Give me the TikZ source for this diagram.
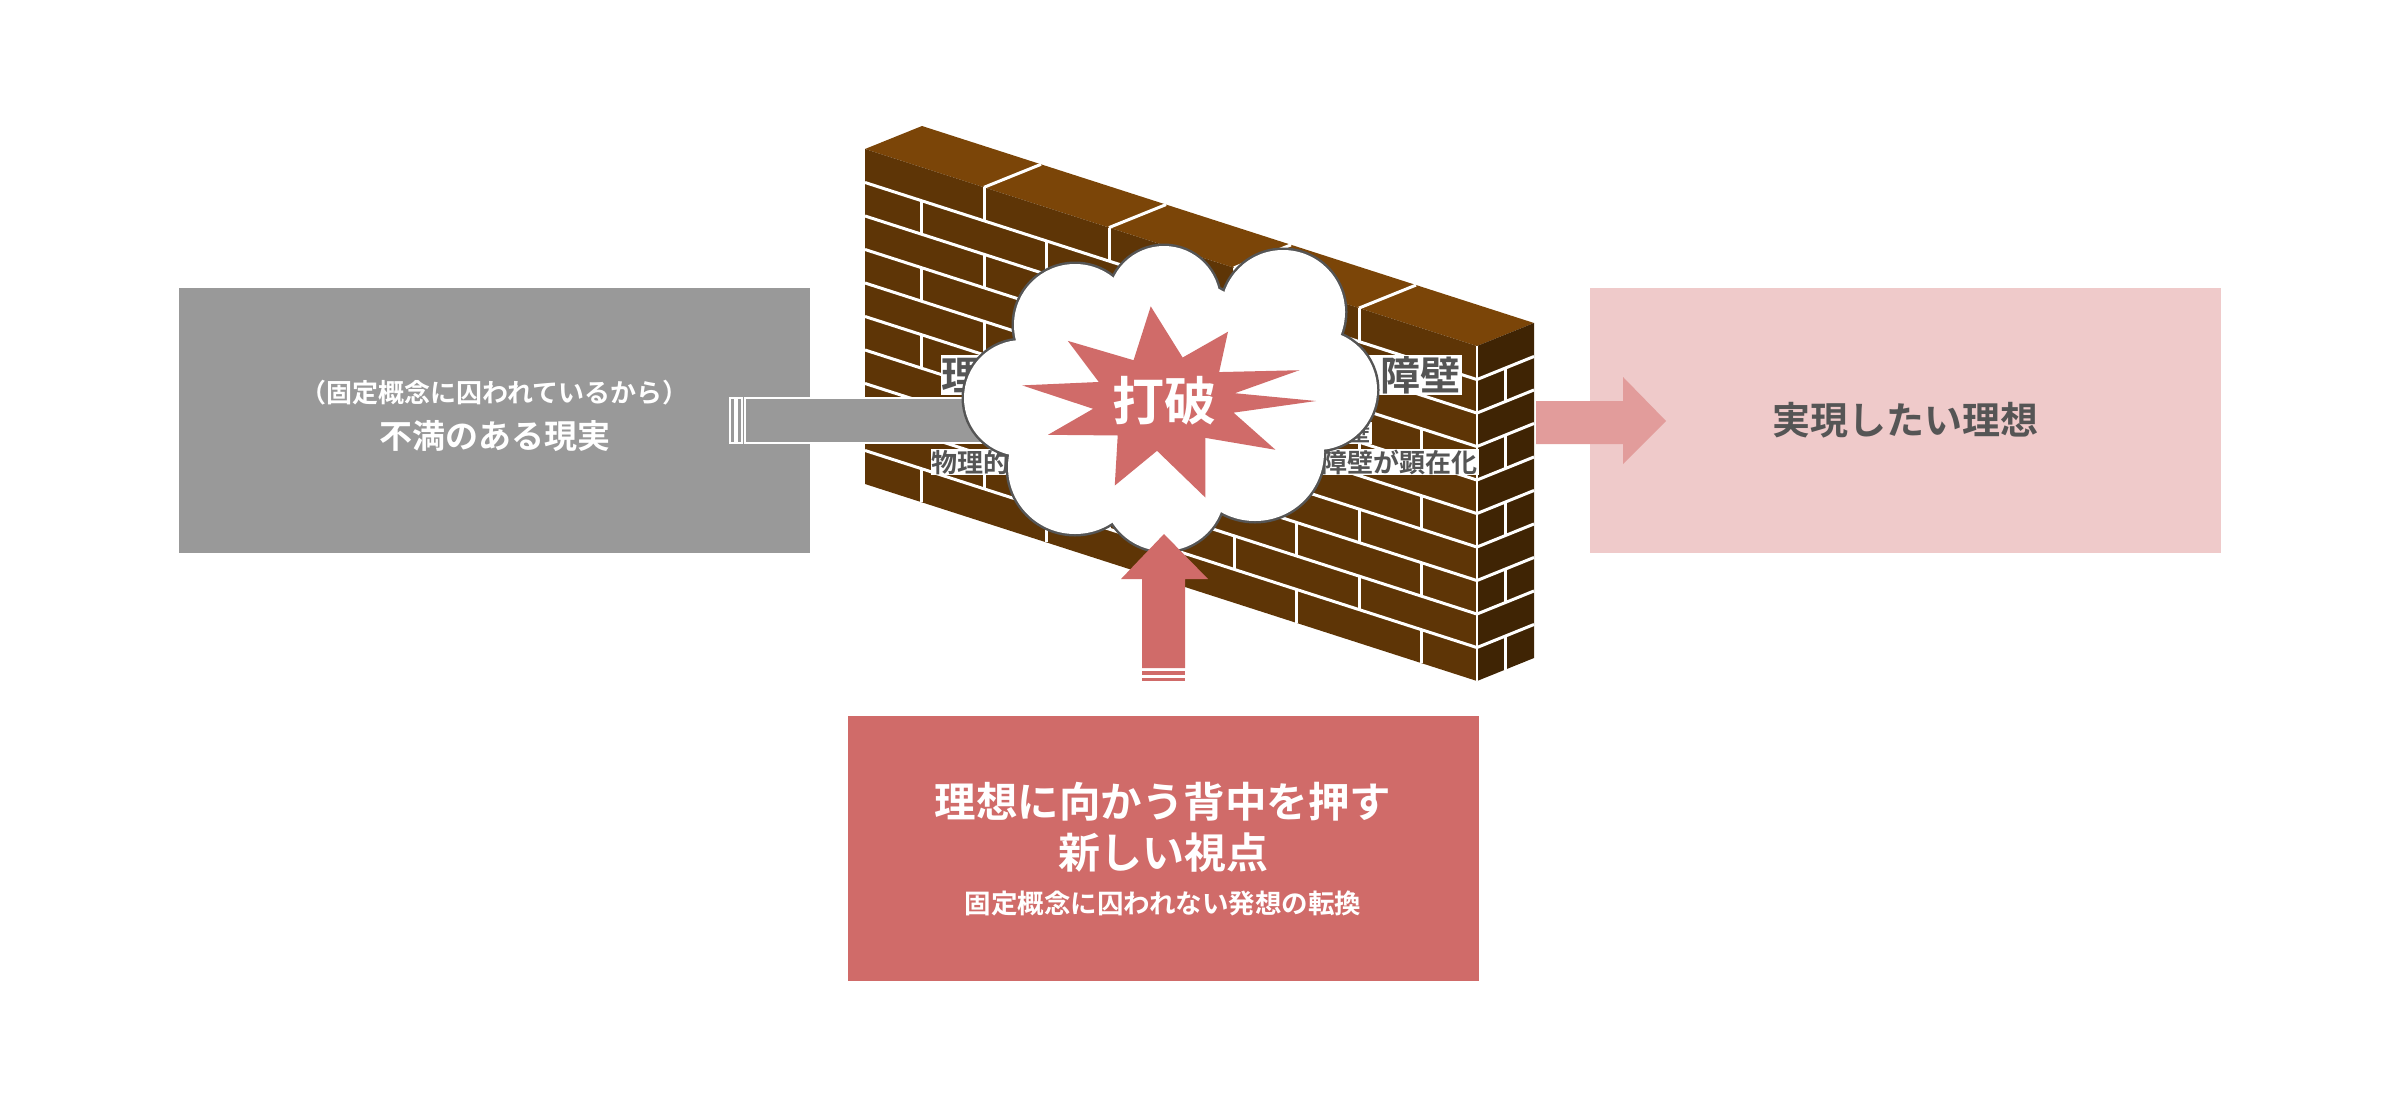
\documentclass[tikz,border=0pt]{standalone}
\usepackage{fontspec}
\setmainfont{Noto Sans CJK JP}[BoldFont={Noto Sans CJK JP Bold}]
\definecolor{wallTop}{HTML}{7B4508}
\definecolor{wallFront}{HTML}{5E3506}
\definecolor{wallSide}{HTML}{3F2404}
\definecolor{boxGray}{HTML}{999999}
\definecolor{boxPink}{HTML}{EFCACA}
\definecolor{boxRed}{HTML}{D06B69}
\definecolor{arrowPink}{HTML}{E29C9B}
\definecolor{textGray}{HTML}{555555}
\tikzset{
  panel/.style={minimum width=631pt, minimum height=265pt, inner sep=0pt, align=center},
  mortar/.style={white, line width=3pt},
  walltext/.style={fill=white, text=textGray, inner sep=1pt, font=\bfseries},
}
\begin{document}
\begin{tikzpicture}[x=1pt, y=-1pt]
\useasboundingbox (0,0) rectangle (2400,1111);
% Reality, ideal and new view panels
\node [panel, fill=boxGray, text=white] (real) at (494.5,420.5) {};
\node [text=white, font=\bfseries\fontsize{26}{28}\selectfont] (realsub) at (494.5,393) {（固定概念に囚われているから）};
\node [text=white, font=\bfseries\fontsize{33}{36}\selectfont] (realmain) at (494.5,436) {不満のある現実};
\node [panel, fill=boxPink, text=textGray, font=\bfseries\fontsize{38}{40}\selectfont] (ideal) at (1905.5,420.5) {実現したい理想};
\node [panel, fill=boxRed] (view) at (1163,848.5) {};
\node [text=white, font=\bfseries\fontsize{41.5}{44}\selectfont] (viewA) at (1163,802) {理想に向かう背中を押す};
\node [text=white, font=\bfseries\fontsize{42}{44}\selectfont] (viewB) at (1163,853) {新しい視点};
\node [text=white, font=\bfseries\fontsize{26.5}{30}\selectfont] (viewC) at (1163,903) {固定概念に囚われない発想の転換};
% Right arrow toward the ideal
\fill [arrowPink] (1536,401) -- (1623,401) -- (1623,377) -- (1666,421) -- (1623,464) -- (1623,444) -- (1536,444) -- cycle;
% Brick wall: faces
\fill [wallTop] (865,149) -- (922,126) -- (1534,323) -- (1477,346) -- cycle;
\fill [wallFront] (865,149) -- (1477,346) -- (1477,681) -- (865,484) -- cycle;
\fill [wallSide] (1477,346) -- (1534,323) -- (1534,658) -- (1477,681) -- cycle;
% Brick wall: mortar on the front
\begin{scope}[shift={(865,149)}, yslant=-0.322]
  \foreach \i in {1,...,9}
    \draw [mortar] (0,33.5*\i) -- (612,33.5*\i);
  \foreach \i in {0,2,...,8}
    \foreach \u in {119,244,369,494}
      \draw [mortar] (\u,33.5*\i) -- (\u,33.5*\i+33.5);
  \foreach \i in {1,3,...,9}
    \foreach \u in {56,181,306,431,556}
      \draw [mortar] (\u,33.5*\i) -- (\u,33.5*\i+33.5);
\end{scope}
% Brick wall: mortar on top and side
\foreach \u in {119,244,369,494}
  \draw [mortar] (865+\u,149+0.322*\u) -- ++(57,-23);
\begin{scope}[shift={(1477,346)}, yslant=0.404]
  \foreach \i in {1,...,9}
    \draw [mortar] (0,33.5*\i) -- (57,33.5*\i);
  \foreach \i in {1,3,...,9}
    \draw [mortar] (28,33.5*\i) -- (28,33.5*\i+33.5);
\end{scope}
\draw [mortar, line width=2pt] (1477,346) -- (1477,681);
% Labels written on the wall
\node [walltext, font=\bfseries\fontsize{40}{44}\selectfont, anchor=east] (wallA) at (1462,375) {理想の前に立ちはだかる障壁};
\node [walltext, font=\bfseries\fontsize{22}{24}\selectfont, anchor=east] (wallB) at (1372,433) {目に見えない心理的な障壁};
\node [walltext, font=\bfseries\fontsize{26}{28}\selectfont, anchor=east] (wallC) at (1479,462) {物理的・心理的・社会的な様々な障壁が顕在化};
% Gray arrow from the present
\fill [boxGray, draw=white, line width=1.5pt] (730,398) rectangle (735,443);
\fill [boxGray, draw=white, line width=1.5pt] (737,398) rectangle (742,443);
\fill [boxGray, draw=white, line width=1.5pt] (745,398) rectangle (1010,443);
% Cloud of the breakthrough
\foreach \cx/\cy/\r in {1075/325/61, 1164/302/56, 1283/312/62, 1022/398/58, 1317/390/60,
                        1075/467/67, 1164/490/61, 1255/452/69, 1164/398/122}
  \draw [textGray, line width=5pt] (\cx,\cy) circle (\r);
\foreach \cx/\cy/\r in {1075/325/61, 1164/302/56, 1283/312/62, 1022/398/58, 1317/390/60,
                        1075/467/67, 1164/490/61, 1255/452/69, 1164/398/122}
  \fill [white] (\cx,\cy) circle (\r);
\begin{scope}[shift={(1164,401)}, xscale=1.6]
  \fill [boxRed] (0:95) -- (15:45) -- (35:85) -- (55:45) -- (75:100) -- (95:50) -- (110:90)
    -- (130:45) -- (155:80) -- (170:45) -- (190:90) -- (205:45) -- (225:85) -- (245:45)
    -- (265:95) -- (285:45) -- (300:80) -- (320:45) -- (340:90) -- (350:45) -- cycle;
\end{scope}
\node [text=white, font=\bfseries\fontsize{52}{56}\selectfont] (burst) at (1164,401) {打破};
% Red arrow pushing from below
\fill [boxRed] (1142,668) -- (1142,579) -- (1121,579) -- (1164,534) -- (1208,579) -- (1185,579) -- (1185,668) -- cycle;
\fill [boxRed] (1142,671) rectangle (1185,675);
\fill [boxRed] (1142,678) rectangle (1185,681);
\end{tikzpicture}
\end{document}
